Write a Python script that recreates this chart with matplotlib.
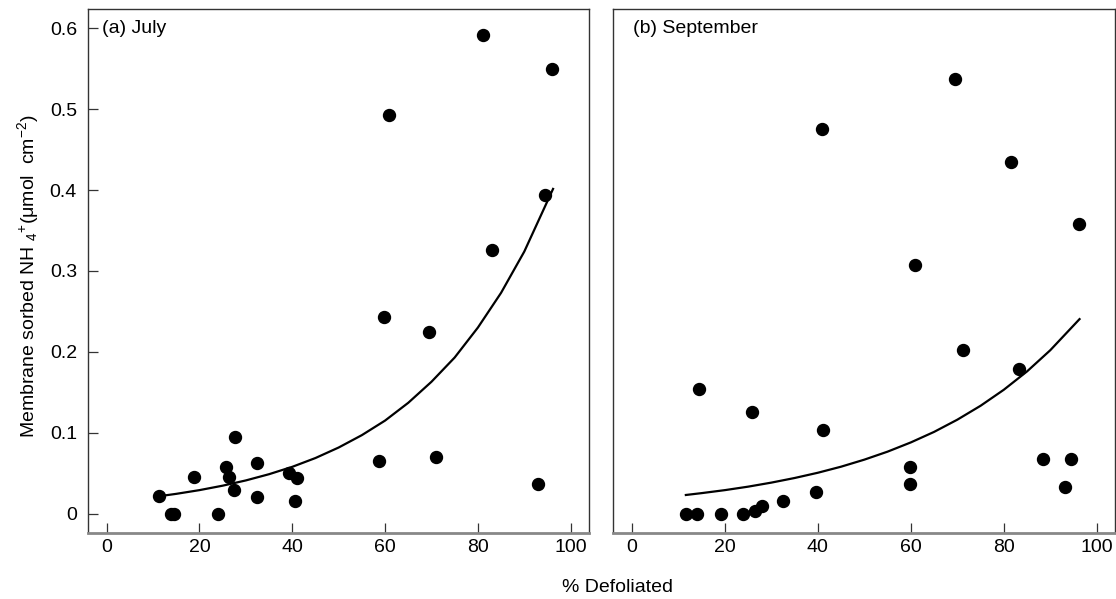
import matplotlib.pyplot as plt

plt.rcParams['font.family'] = ['Liberation Sans', 'DejaVu Sans']
plt.rcParams['mathtext.fontset'] = 'custom'
plt.rcParams['mathtext.rm'] = 'Liberation Sans'
plt.rcParams['mathtext.it'] = 'Liberation Sans'

# July (a) - % defoliated vs membrane sorbed NH4+
july_x = [11.3, 13.8, 14.5, 18.8, 24.0, 25.7, 26.3, 27.6, 27.5, 32.5, 32.5,
          39.4, 41.1, 40.7, 58.6, 59.8, 60.9, 69.5, 71.0, 81.1, 83.0, 92.9,
          94.4, 95.9]
july_y = [0.022, 0.0, 0.0, 0.045, 0.0, 0.057, 0.045, 0.095, 0.029, 0.062,
          0.021, 0.050, 0.044, 0.016, 0.065, 0.243, 0.493, 0.225, 0.070,
          0.592, 0.326, 0.036, 0.394, 0.550]

# fitted curve
july_fit_x = [12.6, 15, 20, 25, 30, 35, 40, 45, 50, 55, 60, 65, 70, 75, 80,
              85, 90, 96.2]
july_fit_y = [0.0225, 0.0244, 0.0290, 0.0345, 0.0410, 0.0487, 0.0578, 0.0687,
              0.0817, 0.0970, 0.115, 0.137, 0.163, 0.193, 0.230, 0.273, 0.324,
              0.4015]

# September (b)
sept_x = [11.6, 14.0, 14.5, 19.1, 24.0, 25.8, 26.4, 27.9, 32.5, 39.7, 41.2,
          40.8, 59.9, 59.9, 61.0, 69.6, 71.2, 81.5, 83.2, 88.4, 93.1, 94.5,
          96.2]
sept_y = [0.0, 0.0, 0.154, 0.0, 0.0, 0.126, 0.003, 0.009, 0.015, 0.027,
          0.103, 0.476, 0.058, 0.0365, 0.308, 0.537, 0.202, 0.435, 0.179,
          0.068, 0.033, 0.067, 0.358]

sept_fit_x = [11.6, 15, 20, 25, 30, 35, 40, 45, 50, 55, 60, 65, 70, 75, 80,
              85, 90, 96.3]
sept_fit_y = [0.0230, 0.0253, 0.0290, 0.0333, 0.0383, 0.0440, 0.0505, 0.0580,
              0.0667, 0.0766, 0.0880, 0.1010, 0.1161, 0.1333, 0.1531, 0.1758,
              0.2020, 0.2405]

x_ticks = [0, 20, 40, 60, 80, 100]
y_ticks = [0, 0.1, 0.2, 0.3, 0.4, 0.5, 0.6]
y_ticklabels = ["0", "0.1", "0.2", "0.3", "0.4", "0.5", "0.6"]

FS = 14

fig = plt.figure(figsize=(11.16, 5.99), dpi=100)
ax1 = fig.add_axes([0.0789, 0.1102, 0.4491, 0.8748])
ax2 = fig.add_axes([0.5496, 0.1102, 0.4498, 0.8748])

panels = [(ax1, july_x, july_y, july_fit_x, july_fit_y, "(a) July", -1.0),
          (ax2, sept_x, sept_y, sept_fit_x, sept_fit_y, "(b) September", 0.2)]

for ax, xs, ys, fx, fy, label, lx in panels:
    ax.plot(xs, ys, 'o', color='black', markersize=8.6, zorder=3)
    ax.plot(fx, fy, '-', color='black', linewidth=1.6)
    ax.set_xlim(-4, 104)
    ax.set_ylim(-0.024, 0.624)
    ax.set_xticks(x_ticks)
    ax.set_xticklabels([str(t) for t in x_ticks])
    ax.tick_params(axis='x', direction='in', length=7.2, width=0.9,
                   color='#333333', labelsize=FS, pad=4)
    for side in ['top', 'right', 'left']:
        ax.spines[side].set_color('#333333')
        ax.spines[side].set_linewidth(1.0)
    ax.spines['bottom'].set_color('#888888')
    ax.spines['bottom'].set_linewidth(2.0)
    ax.text(lx, 0.6, label, fontsize=FS, ha='left', va='center')

ax1.set_yticks(y_ticks)
ax1.set_yticklabels(y_ticklabels)
ax1.tick_params(axis='y', direction='in', length=7.2, width=0.9,
                color='#333333', labelsize=FS, pad=8)
ax2.set_yticks([])

fig.text(28 / 1116, 1 - 276 / 599,
         r"Membrane sorbed NH $_{4}$$^{+}$($\mu$mol  cm$^{-2}$)",
         rotation=90, ha='center', va='center', fontsize=FS)
fig.text(617 / 1116, 1 - 588 / 599, "% Defoliated",
         ha='center', va='center', fontsize=FS)

plt.savefig("out.png", dpi=100)
plt.close(fig)
